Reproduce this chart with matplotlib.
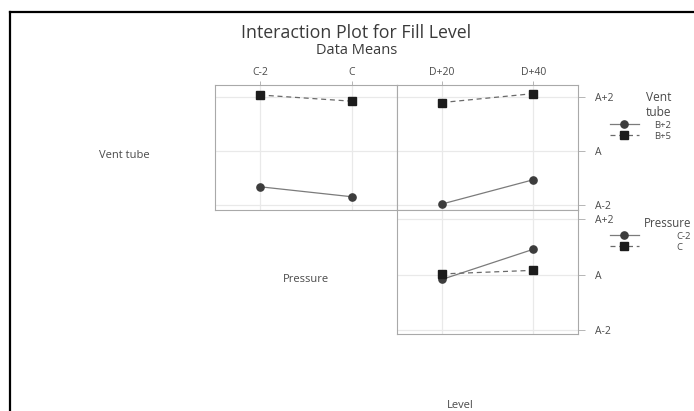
import matplotlib.pyplot as plt
from matplotlib.lines import Line2D

plt.rcParams["font.family"] = ["Open Sans", "DejaVu Sans"]

# factor levels
pressure_levels = ["C-2", "C"]
level_levels = ["D+20", "D+40"]
vent_levels = ["B+2", "B+5"]
y_ticks = [-2, 0, 2]
y_ticklabels = ["A-2", "A", "A+2"]

# fill level means (offset from A)
vent_by_pressure = {"B+2": [-1.33, -1.70], "B+5": [2.07, 1.84]}
vent_by_level = {"B+2": [-1.97, -1.07], "B+5": [1.79, 2.12]}
pressure_by_level = {"C-2": [-0.17, 0.92], "C": [0.03, 0.16]}

txt = "#4a4a4a"
frame = "#a9a9a9"
grid = "#e9e9e9"
styles = [
    dict(marker="o", color="#7b7b7b", ls="-", mfc="#3c3c3c", mec="#3c3c3c"),
    dict(marker="s", color="#6a6a6a", ls=(0, (4, 3)), mfc="#1c1c1c", mec="#1c1c1c"),
]

fig = plt.figure(figsize=(6.94, 4.11), dpi=100)

W, H = 694, 411
def box(x0, y0, x1, y1):
    return [x0 / W, 1 - y1 / H, (x1 - x0) / W, (y1 - y0) / H]

ax_tl = fig.add_axes(box(215, 85, 397, 210))
ax_tr = fig.add_axes(box(397, 85, 578, 210))
ax_br = fig.add_axes(box(397, 210, 578, 334))


def panel(ax, cats, series, ylim):
    xs = range(len(cats))
    lines = []
    for st, (name, vals) in zip(styles, series.items()):
        ln, = ax.plot(xs, vals, lw=0.9, ms=5.2, label=name, **st)
        lines.append(ln)
    ax.set_xlim(-0.49, 1.49)
    ax.set_ylim(*ylim)
    ax.set_xticks(list(xs))
    ax.set_yticks(y_ticks)
    ax.grid(True, color=grid, lw=0.9)
    ax.set_axisbelow(True)
    for s in ax.spines.values():
        s.set_color(frame)
        s.set_linewidth(0.8)
    ax.tick_params(colors=frame, labelcolor=txt, labelsize=7.5, length=3, width=0.6)
    return lines


panel(ax_tl, pressure_levels, vent_by_pressure, (-2.19, 2.44))
vent_lines = panel(ax_tr, level_levels, vent_by_level, (-2.19, 2.44))
press_lines = panel(ax_br, level_levels, pressure_by_level, (-2.14, 2.34))

# category labels along the top
for ax, cats in [(ax_tl, pressure_levels), (ax_tr, level_levels)]:
    ax.xaxis.tick_top()
    ax.set_xticklabels(cats)
    ax.tick_params(axis="x", pad=2)

ax_br.tick_params(axis="x", length=0, labelbottom=False)
ax_tl.tick_params(axis="y", left=False, labelleft=False)

# response scale on the right
for ax in (ax_tr, ax_br):
    ax.yaxis.tick_right()
    ax.set_yticklabels(y_ticklabels)
    ax.tick_params(axis="y", length=5, pad=7)

# legends
leg1 = fig.legend(vent_lines, vent_levels, title="Vent\ntube",
                  loc="upper left", bbox_to_anchor=(605 / W, 1 - 86 / H),
                  frameon=False, fontsize=6.8, title_fontsize=8.6,
                  handlelength=3.1, handletextpad=1.6, labelspacing=0.2,
                  borderpad=0, alignment="right")
leg2 = fig.legend(press_lines, pressure_levels, title="Pressure",
                  loc="upper left", bbox_to_anchor=(605 / W, 1 - 212 / H),
                  frameon=False, fontsize=6.8, title_fontsize=8.3,
                  handlelength=3.1, handletextpad=4.0, labelspacing=0.2,
                  borderpad=0, alignment="right")
for leg in (leg1, leg2):
    leg.get_title().set_color(txt)
    for t in leg.get_texts():
        t.set_color(txt)

# titles and factor names
fig.text(356 / W, 1 - 33 / H, "Interaction Plot for Fill Level",
         ha="center", va="center", fontsize=12.8, color="#3a3a3a")
fig.text(357 / W, 1 - 50 / H, "Data Means",
         ha="center", va="center", fontsize=10.5, color="#3a3a3a")
fig.text(124 / W, 1 - 156 / H, "Vent tube", ha="center", va="center",
         fontsize=8, color=txt)
fig.text(306 / W, 1 - 280 / H, "Pressure", ha="center", va="center",
         fontsize=8, color=txt)
fig.text(460 / W, 1 - 405 / H, "Level", ha="center", va="center",
         fontsize=8, color=txt)

# outer frame lines
fig.add_artist(Line2D([10 / W, 10 / W], [0, 1 - 12 / H], color="black", lw=1.6))
fig.add_artist(Line2D([10 / W, 1], [1 - 12 / H, 1 - 12 / H], color="black", lw=1.6))

fig.savefig("out.png", dpi=100)
